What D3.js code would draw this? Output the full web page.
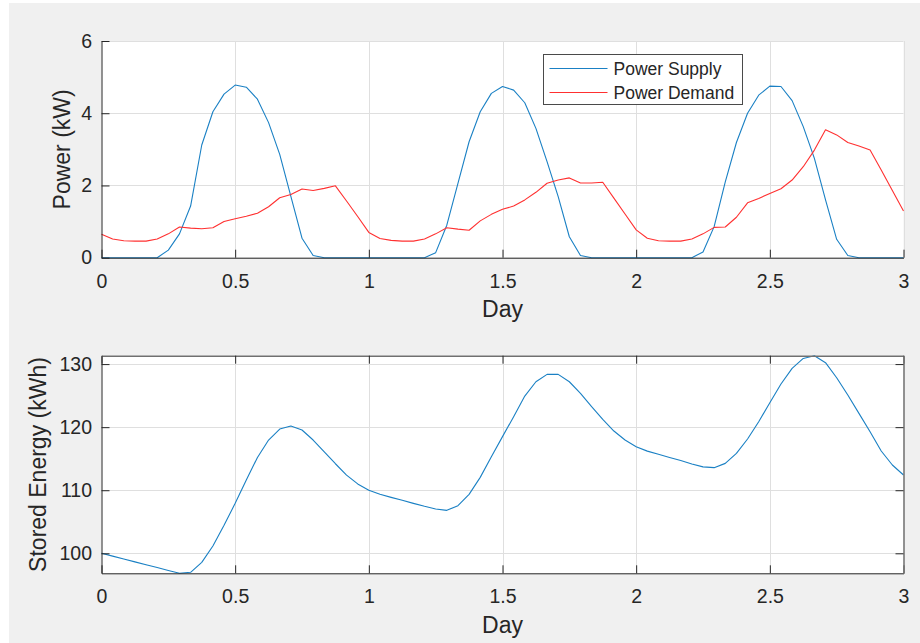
<!DOCTYPE html>
<html>
<head>
<meta charset="utf-8">
<script src="https://cdn.jsdelivr.net/npm/d3@7"></script>
<style>
  html, body { margin: 0; padding: 0; background: #fff; }
  svg { display: block; font-family: "Liberation Sans", Arial, sans-serif; }
</style>
</head>
<body>
<svg id="chart" width="920" height="643"></svg>
<script>
// hourly samples over three days
var stepDays = 1 / 24;

var powerSupply = [
  0, 0, 0, 0, 0, 0, 0.21, 0.66, 1.43, 3.12, 4.04, 4.53, 4.78, 4.72, 4.39, 3.74, 2.86, 1.7, 0.54, 0.06, 0, 0, 0, 0,
  0, 0, 0, 0, 0, 0, 0.14, 0.9, 2.06, 3.21, 4.04, 4.55, 4.74, 4.64, 4.29, 3.58, 2.66, 1.69, 0.58, 0.06, 0, 0, 0, 0,
  0, 0, 0, 0, 0, 0, 0.16, 0.86, 2.1, 3.19, 4.0, 4.5, 4.75, 4.74, 4.35, 3.63, 2.75, 1.6, 0.51, 0.06, 0, 0, 0, 0, 0
];

var powerDemand = [
  0.65, 0.52, 0.47, 0.46, 0.46, 0.52, 0.66, 0.85, 0.82, 0.8, 0.83, 1.0, 1.08, 1.15, 1.23, 1.41, 1.66, 1.75, 1.9, 1.86, 1.92, 1.99, 1.57, 1.14,
  0.7, 0.53, 0.48, 0.46, 0.46, 0.52, 0.66, 0.83, 0.79, 0.76, 1.02, 1.2, 1.34, 1.43, 1.6, 1.81, 2.06, 2.15, 2.21, 2.07, 2.07, 2.09, 1.65, 1.21,
  0.77, 0.54, 0.47, 0.46, 0.46, 0.52, 0.66, 0.84, 0.85, 1.12, 1.52, 1.64, 1.78, 1.91, 2.15, 2.52, 2.98, 3.54, 3.4, 3.19, 3.09, 2.98, 2.43, 1.86, 1.29
];

var storedEnergy = [
  100, 99.55, 99.1, 98.64, 98.19, 97.74, 97.28, 96.83, 96.99, 98.57, 101.16, 104.44, 107.92, 111.62, 115.2, 117.96, 119.7, 120.18, 119.55, 117.96, 116.1, 114.2, 112.4, 111.0,
  110.0, 109.35, 108.87, 108.4, 107.92, 107.45, 107.03, 106.81, 107.55, 109.35, 112.04, 115.32, 118.5, 121.66, 124.93, 127.2, 128.37, 128.37, 127.2, 125.36, 123.24, 121.24, 119.39, 117.96,
  116.9, 116.2, 115.7, 115.2, 114.7, 114.16, 113.7, 113.58, 114.26, 115.85, 118.12, 120.87, 123.88, 126.84, 129.32, 130.9, 131.33, 130.22, 127.84, 125.09, 122.19, 119.28, 116.22, 114.0, 112.41
];

var dayTicks = [0, 0.5, 1, 1.5, 2, 2.5, 3];
var powerTicks = [0, 2, 4, 6];
var energyTicks = [100, 110, 120, 130];
var seriesNames = ["Power Supply", "Power Demand"];

var textColor = "#262626";
var gridColor = "#dfdfdf";
var blue = "#1a80c4";
var red = "#ff3030";

var svg = d3.select("#chart");

svg.append("rect")
  .attr("x", 9).attr("y", 3)
  .attr("width", 911).attr("height", 640)
  .attr("fill", "#f0f0f0");

var left = 101.5, right = 903.5;

var x = d3.scaleLinear().domain([0, 3]).range([left, right]);

function drawPanel(opts) {
  var g = svg.append("g");
  var y = opts.y;
  var top = y.range()[1], bottom = y.range()[0];

  g.append("rect")
    .attr("x", left).attr("y", top)
    .attr("width", right - left).attr("height", bottom - top)
    .attr("fill", "#fff");

  // grid
  g.append("g").selectAll("line")
    .data(opts.xGrid).enter().append("line")
    .attr("x1", function(d) { return Math.round(x(d)) + 0.5; })
    .attr("x2", function(d) { return Math.round(x(d)) + 0.5; })
    .attr("y1", top).attr("y2", bottom)
    .attr("stroke", gridColor);
  g.append("g").selectAll("line")
    .data(opts.yTicks).enter().append("line")
    .attr("x1", left).attr("x2", right)
    .attr("y1", function(d) { return Math.round(y(d)) + 0.5; })
    .attr("y2", function(d) { return Math.round(y(d)) + 0.5; })
    .attr("stroke", gridColor);

  // series
  opts.series.forEach(function(s) {
    var line = d3.line()
      .x(function(d, i) { return x(i * stepDays); })
      .y(function(d) { return y(d); });
    g.append("path")
      .datum(s.values)
      .attr("d", line)
      .attr("fill", "none")
      .attr("stroke", s.color)
      .attr("stroke-width", 1.1)
      .attr("stroke-linejoin", "round");
  });

  // axes
  var xAxis = d3.axisBottom(x).tickValues(dayTicks)
    .tickFormat(function(d) { return d; })
    .tickSizeInner(-8).tickSizeOuter(0).tickPadding(16);
  g.append("g")
    .attr("transform", "translate(0," + bottom + ")")
    .call(xAxis);

  var yAxis = d3.axisLeft(y).tickValues(opts.yTicks)
    .tickFormat(function(d) { return d; })
    .tickSizeInner(-8).tickSizeOuter(0).tickPadding(9.5);
  g.append("g")
    .attr("transform", "translate(" + left + ",0)")
    .call(yAxis);

  if (opts.box) {
    g.append("g")
      .attr("transform", "translate(0," + top + ")")
      .call(d3.axisTop(x).tickValues(dayTicks).tickFormat("").tickSizeInner(-8).tickSizeOuter(0))
      .call(function(a) { a.select(".domain").attr("stroke", "#707070").attr("stroke-width", 1.5); });
    g.append("g")
      .attr("transform", "translate(" + right + ",0)")
      .call(d3.axisRight(y).tickValues(opts.yTicks).tickFormat("").tickSizeInner(-8).tickSizeOuter(0))
      .call(function(a) { a.select(".domain").attr("stroke", "#707070").attr("stroke-width", 1.5); });
  }

  g.selectAll(".tick line").attr("stroke", textColor);
  g.selectAll(".domain").filter(function() { return !this.getAttribute("stroke-width"); })
    .attr("stroke", textColor);
  g.selectAll(".tick text")
    .attr("fill", textColor)
    .style("font-size", "19.5px")
    .style("font-family", "'Liberation Sans', Arial, sans-serif");

  // labels
  g.append("text")
    .attr("x", (left + right) / 2).attr("y", bottom + 59.5)
    .attr("text-anchor", "middle")
    .attr("fill", textColor)
    .style("font-size", "23px")
    .text("Day");
  g.append("text")
    .attr("transform", "translate(" + opts.yLabelX + "," + ((top + bottom) / 2) + ") rotate(-90)")
    .attr("text-anchor", "middle")
    .attr("fill", textColor)
    .style("font-size", "23px")
    .text(opts.yLabel);

  return g;
}

var yPower = d3.scaleLinear().domain([0, 6]).range([257.7, 41]);
drawPanel({
  y: yPower,
  yTicks: powerTicks,
  xGrid: dayTicks.slice(1),
  series: [
    { values: powerSupply, color: blue },
    { values: powerDemand, color: red }
  ],
  box: false,
  yLabel: "Power (kW)",
  yLabelX: 70
});

var yEnergy = d3.scaleLinear().domain(d3.extent(storedEnergy)).range([573.3, 355.7]);
drawPanel({
  y: yEnergy,
  yTicks: energyTicks,
  xGrid: dayTicks.slice(1, -1),
  series: [{ values: storedEnergy, color: blue }],
  box: true,
  yLabel: "Stored Energy (kWh)",
  yLabelX: 46
});

// legend
var legend = svg.append("g").attr("transform", "translate(543.5,54.5)");
legend.append("rect")
  .attr("width", 199).attr("height", 50)
  .attr("fill", "#fff")
  .attr("stroke", "#4a4a4a");
var legendColors = [blue, red];
var items = legend.selectAll("g.item")
  .data(seriesNames).enter().append("g")
  .attr("transform", function(d, i) { return "translate(0," + (14 + i * 24) + ")"; });
items.append("line")
  .attr("x1", 6).attr("x2", 64)
  .attr("stroke", function(d, i) { return legendColors[i]; })
  .attr("stroke-width", 1.1);
items.append("text")
  .attr("x", 70).attr("y", 6.3)
  .attr("fill", textColor)
  .style("font-size", "17.5px")
  .text(function(d) { return d; });
</script>
</body>
</html>
